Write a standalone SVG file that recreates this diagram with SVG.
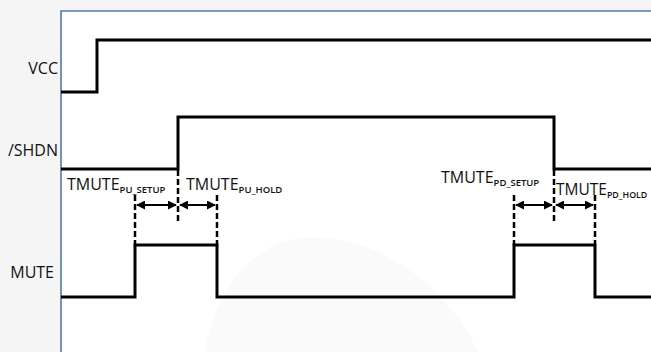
<svg xmlns="http://www.w3.org/2000/svg" width="651" height="352" viewBox="0 0 651 352">
<defs>
<style>
.lbl{font-family:"Open Sans","Liberation Sans",sans-serif;font-size:16px;fill:#111}
.sub{font-family:"Open Sans","Liberation Sans",sans-serif;font-size:9.5px;font-weight:600;fill:#111}
.sig{fill:none;stroke:#000;stroke-width:3;stroke-linejoin:miter}
.dash{fill:none;stroke:#000;stroke-width:2.5;stroke-dasharray:6 3}
.arr{fill:none;stroke:#000;stroke-width:2}
</style>
<marker id="ah" viewBox="0 0 10 10" refX="9" refY="5" markerWidth="4.5" markerHeight="4.5" orient="auto-start-reverse" markerUnits="strokeWidth">
<path d="M0,0 L10,5 L0,10 Z" fill="#000"/>
</marker>
</defs>
<rect x="0" y="0" width="651" height="352" fill="#f5f5f5"/>
<rect x="61" y="11" width="600" height="350" fill="#ffffff"/>
<path d="M205,352 C215,290 250,245 300,238 C380,232 450,290 478,352 Z" fill="#fafafa"/>
<path d="M61,352 L61,11 L651,11" fill="none" stroke="#5577aa" stroke-width="1.6"/>

<g id="labels">
<text class="lbl" x="58" y="74" text-anchor="end">VCC</text>
<text class="lbl" x="58" y="156" text-anchor="end">/SHDN</text>
<text class="lbl" x="54" y="278" text-anchor="end">MUTE</text>
</g>

<g id="vcc"><path class="sig" d="M61,92 L97,92 L97,40 L651,40"/></g>
<g id="shdn"><path class="sig" d="M61,169 L178,169 L178,117 L554,117 L554,169 L651,169"/></g>
<g id="mute"><path class="sig" d="M61,297 L135,297 L135,245 L217,245 L217,297 L514,297 L514,245 L595,245 L595,297 L651,297"/></g>

<g id="connectors">
<path class="dash" d="M135,195 V245 M178,170 V221 M217,195 V245 M514,195 V245 M554,170 V221 M595,195 V245"/>
<path class="arr" d="M137,205 H176" marker-start="url(#ah)" marker-end="url(#ah)"/>
<path class="arr" d="M180,205 H215" marker-start="url(#ah)" marker-end="url(#ah)"/>
<path class="arr" d="M516,205 H552" marker-start="url(#ah)" marker-end="url(#ah)"/>
<path class="arr" d="M556,205 H593" marker-start="url(#ah)" marker-end="url(#ah)"/>
</g>

<g id="t-pu-setup"><text class="lbl" x="67" y="190">TMUTE<tspan class="sub" dy="3">PU_SETUP</tspan></text></g>
<g id="t-pu-hold"><text class="lbl" x="186" y="190">TMUTE<tspan class="sub" dy="3">PU_HOLD</tspan></text></g>
<g id="t-pd-setup"><text class="lbl" x="441" y="183">TMUTE<tspan class="sub" dy="3">PD_SETUP</tspan></text></g>
<g id="t-pd-hold"><text class="lbl" x="556" y="195" style="font-size:15.5px">TMUTE<tspan class="sub" dy="3" style="font-size:8.8px">PD_HOLD</tspan></text></g>
</svg>
